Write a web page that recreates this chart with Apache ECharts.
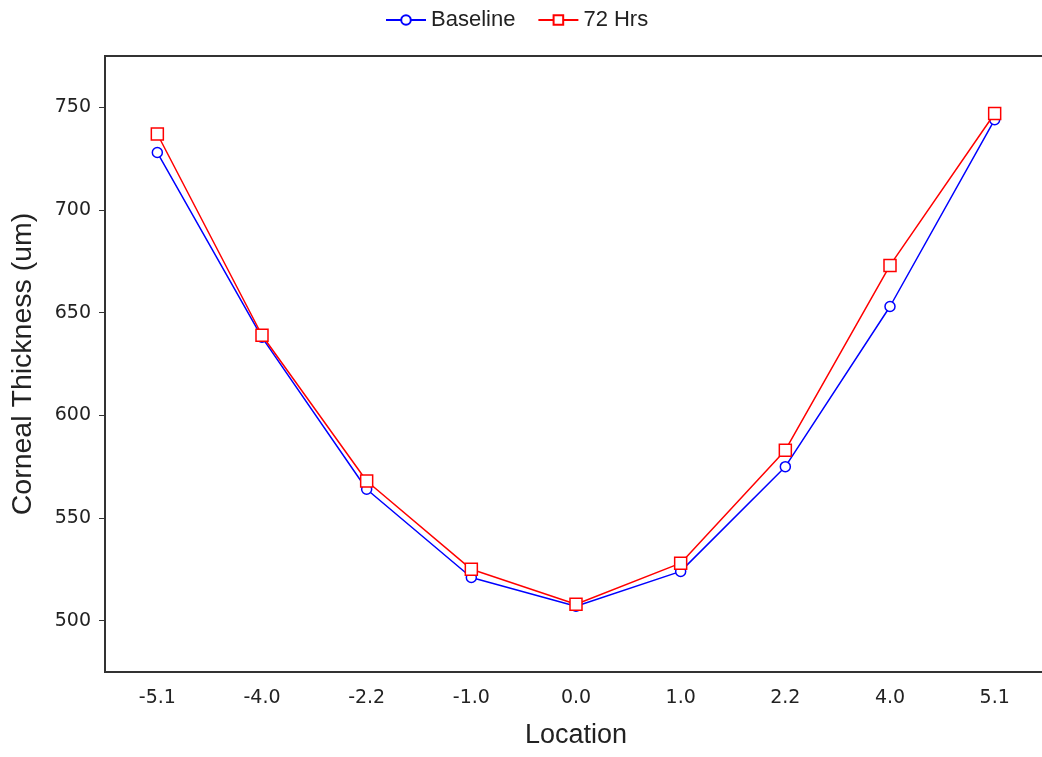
<!DOCTYPE html>
<html>
<head>
<meta charset="utf-8">
<script src="https://cdn.jsdelivr.net/npm/echarts@6/dist/echarts.min.js"></script>
<style>
  html, body { margin: 0; padding: 0; background: #fff; }
  #chart { width: 1042px; height: 757px; }
</style>
</head>
<body>
<div id="chart"></div>
<script>
// Measurement locations across the cornea
const locations = ['-5.1', '-4.0', '-2.2', '-1.0', '0.0', '1.0', '2.2', '4.0', '5.1'];
// Corneal thickness (um) at each location
const baseline = [728, 638, 564, 521, 507, 524, 575, 653, 744];
const hrs72 = [737, 639, 568, 525, 508, 528, 583, 673, 747];
// Labelled y values
const yTicks = [500, 550, 600, 650, 700, 750];

const titleFont = 'Liberation Sans, Arial, sans-serif';
const tickFont = 'DejaVu Sans, sans-serif';
const chart = echarts.init(document.getElementById('chart'));

chart.setOption({
  animation: false,
  backgroundColor: '#ffffff',
  legend: {
    top: 4,
    left: 380,
    itemWidth: 40,
    itemHeight: 12,
    itemGap: 22,
    textStyle: { fontFamily: titleFont, fontSize: 22, color: '#222' },
    data: ['Baseline', '72 Hrs']
  },
  grid: {
    left: 105,
    top: 56,
    width: 942,
    bottom: 85,
    outerBoundsMode: 'none',
    show: true,
    borderColor: '#333',
    borderWidth: 2,
    backgroundColor: 'transparent'
  },
  xAxis: {
    type: 'category',
    data: locations,
    boundaryGap: true,
    name: 'Location',
    nameLocation: 'middle',
    nameGap: 50,
    nameTextStyle: { fontFamily: titleFont, fontSize: 27, color: '#222' },
    axisLine: { lineStyle: { color: '#333', width: 2 } },
    axisTick: { inside: true, length: 4, alignWithLabel: true, lineStyle: { color: '#333', width: 1 } },
    axisLabel: { fontFamily: tickFont, fontSize: 19, color: '#222', margin: 17 },
    splitLine: { show: false }
  },
  yAxis: {
    type: 'value',
    min: 475,
    max: 775,
    name: 'Corneal Thickness (um)',
    nameLocation: 'middle',
    nameGap: 67,
    nameTextStyle: { fontFamily: titleFont, fontSize: 28.5, color: '#222' },
    axisLine: { show: true, lineStyle: { color: '#333', width: 2 } },
    axisTick: { show: true, length: 6, customValues: yTicks, lineStyle: { color: '#333', width: 1 } },
    axisLabel: { fontFamily: tickFont, fontSize: 19, color: '#222', margin: 14, customValues: yTicks },
    splitLine: { show: false }
  },
  series: [
    {
      name: 'Baseline',
      type: 'line',
      data: baseline,
      symbol: 'circle',
      symbolSize: 10,
      showAllSymbol: true,
      lineStyle: { color: '#0000ff', width: 1.5 },
      itemStyle: { color: '#ffffff', borderColor: '#0000ff', borderWidth: 1.5 },
      z: 2
    },
    {
      name: '72 Hrs',
      type: 'line',
      data: hrs72,
      symbol: 'rect',
      symbolSize: 12,
      showAllSymbol: true,
      lineStyle: { color: '#ff0000', width: 1.5 },
      itemStyle: { color: '#ffffff', borderColor: '#ff0000', borderWidth: 1.5 },
      z: 3
    }
  ]
});
</script>
</body>
</html>
